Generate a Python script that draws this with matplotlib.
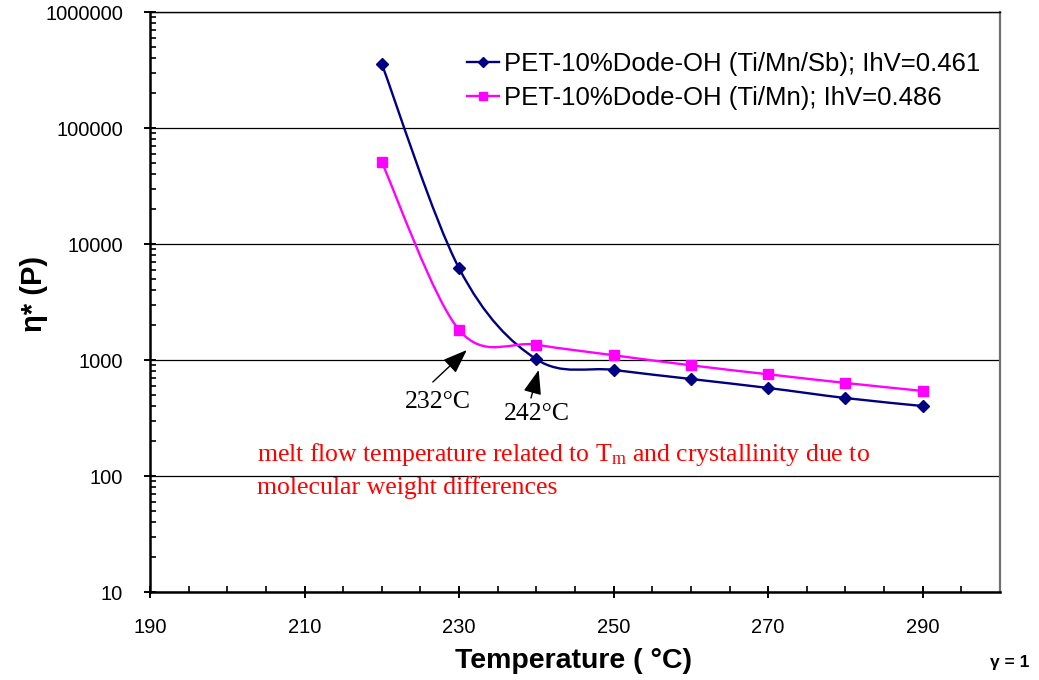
import numpy as np
import matplotlib
matplotlib.use("Agg")
import matplotlib.pyplot as plt
from matplotlib.path import Path
from matplotlib.patches import PathPatch
from matplotlib.lines import Line2D
from matplotlib.ticker import FixedLocator, MultipleLocator, LogLocator, NullFormatter, FuncFormatter

plt.rcParams["font.family"] = ["Liberation Sans", "DejaVu Sans"]
plt.rcParams["mathtext.fontset"] = "custom"
plt.rcParams["mathtext.rm"] = "Liberation Serif"

# Complex viscosity vs. temperature
temperature = [220, 230, 240, 250, 260, 270, 280, 290]
visc_ti_mn_sb = [356000, 6170, 1015, 821, 686, 574, 470, 401]
visc_ti_mn = [50600, 1816, 1355, 1099, 900, 753, 634, 541]

label_ti_mn_sb = "PET-10%Dode-OH (Ti/Mn/Sb); IhV=0.461"
label_ti_mn = "PET-10%Dode-OH (Ti/Mn); IhV=0.486"

x_ticks = [190, 210, 230, 250, 270, 290]
x_limits = (190, 300)
y_limits = (10, 1e6)

navy = "#000080"
magenta = "#FF00FF"


def smooth_path(xs, ys):
    """Cubic Bezier curve through the points (Catmull-Rom style), built in log-y space."""
    pts = np.column_stack([np.asarray(xs, float), np.log10(ys)])
    n = len(pts)
    verts = [pts[0]]
    codes = [Path.MOVETO]
    for i in range(n - 1):
        p_prev = pts[i - 1] if i > 0 else pts[i]
        p_next = pts[i + 2] if i + 2 < n else pts[i + 1]
        c1 = pts[i] + (pts[i + 1] - p_prev) / 6.0
        c2 = pts[i + 1] - (p_next - pts[i]) / 6.0
        verts += [c1, c2, pts[i + 1]]
        codes += [Path.CURVE4] * 3
    verts = np.array(verts)
    verts[:, 1] = 10 ** verts[:, 1]
    return Path(verts, codes)


fig = plt.figure(figsize=(10.39, 6.8), dpi=100)
ax = fig.add_axes([150 / 1039, 1 - 592 / 680, 850 / 1039, 580 / 680])
ax.set_yscale("log")
ax.set_xlim(*x_limits)
ax.set_ylim(*y_limits)

# horizontal grid at decades
ax.yaxis.grid(True, which="major", color="black", lw=0.9)
ax.set_axisbelow(True)

series = [
    (visc_ti_mn_sb, navy, "D", 6.5, label_ti_mn_sb),
    (visc_ti_mn, magenta, "s", 7.5, label_ti_mn),
]
handles = []
for vals, col, mk, ms, lab in series:
    ax.add_patch(PathPatch(smooth_path(temperature, vals), facecolor="none",
                           edgecolor=col, lw=1.7, zorder=3))
    ax.plot(temperature, vals, ls="none", marker=mk, ms=ms, color=col,
            mec=col, zorder=4)
    handles.append(Line2D([], [], color=col, lw=1.7, marker=mk, ms=ms * 0.85))

ax.legend(handles, [s[4] for s in series], loc="upper left",
          bbox_to_anchor=(467 / 1039, 1 - 52 / 680), bbox_transform=fig.transFigure,
          frameon=False, prop={"family": "Liberation Sans", "size": 18.5},
          handlelength=1.25, handletextpad=0.2, labelspacing=0.38,
          borderpad=0, borderaxespad=0)

# axes
ax.xaxis.set_major_locator(FixedLocator(x_ticks))
ax.xaxis.set_minor_locator(MultipleLocator(5))
ax.yaxis.set_major_locator(LogLocator(base=10, numticks=10))
ax.yaxis.set_minor_locator(LogLocator(base=10, subs=np.arange(2, 10), numticks=10))
ax.yaxis.set_minor_formatter(NullFormatter())
ax.yaxis.set_major_formatter(FuncFormatter(lambda v, p: f"{v:.0f}"))

ax.tick_params(axis="both", which="major", direction="inout", length=8, width=1.4)
ax.tick_params(axis="both", which="minor", direction="in", length=4, width=1.2)
ax.tick_params(axis="y", which="major", labelsize=14.5, pad=15.5)
ax.tick_params(axis="x", which="major", labelsize=14.5, pad=14.5)

for side in ("left", "bottom"):
    ax.spines[side].set_linewidth(1.8)
    ax.spines[side].set_color("black")
ax.spines["top"].set_linewidth(1.0)
ax.spines["top"].set_color("black")
ax.spines["right"].set_linewidth(1.6)
ax.spines["right"].set_color("#707070")

ax.set_xlabel("Temperature ( °C)", fontsize=20.5, fontweight="bold")
ax.xaxis.set_label_coords(0.4988, (592 - 661) / 580)
ax.xaxis.label.set_va("center")
ax.set_ylabel("η* (P)", fontsize=21, fontweight="bold")
ax.yaxis.set_label_coords((34 - 150) / 850, (592 - 294) / 580)
ax.yaxis.label.set_va("center")

fig.text(1010 / 1039, 1 - 662 / 680, "γ = 1", fontsize=12.5, fontweight="bold",
         ha="center", va="center")

# annotations marking the melt-flow temperatures
arrow_style = dict(arrowstyle="-|>,head_length=0.75,head_width=0.28",
                   mutation_scale=20, color="black", lw=1.0,
                   shrinkA=0, shrinkB=0)
ax.annotate("", xy=(231.0, 1219), xytext=(226.6, 646), arrowprops=arrow_style)
ax.annotate("", xy=(240.3, 820), xytext=(239.3, 470), arrowprops=arrow_style)
ax.text(227.3, 434, "232°C", family="Liberation Serif", fontsize=18.5,
        ha="center", va="center")
ax.text(240.1, 345, "242°C", family="Liberation Serif", fontsize=18.5,
        ha="center", va="center")

ax.text((257 - 150) / 850, (592 - 441) / 580,
        "melt flow temperature related to T$\\mathregular{_m}$ and crystallinity due to\n"
        "molecular weight differences",
        transform=ax.transAxes, family="Liberation Serif", fontsize=18.5,
        color="red", ha="left", va="top", linespacing=1.42)

fig.savefig("out.png", dpi=100)
